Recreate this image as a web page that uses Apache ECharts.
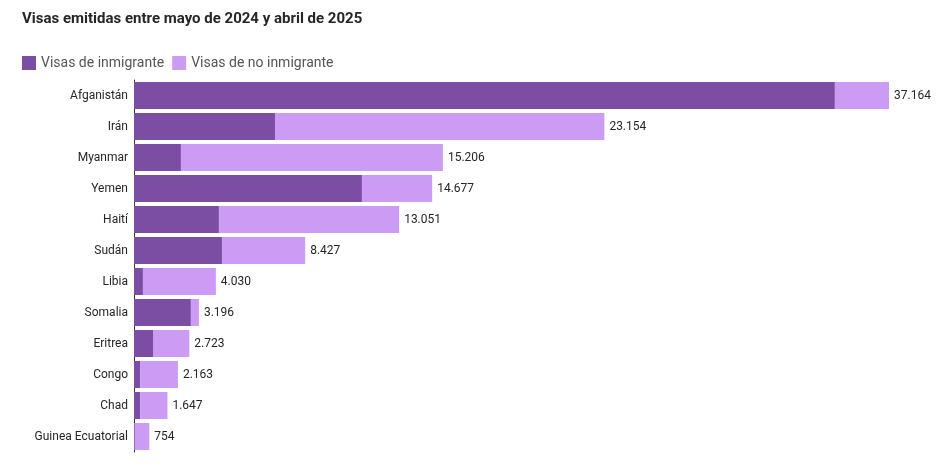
<!DOCTYPE html>
<html><head><meta charset="utf-8">
<script src="https://cdn.jsdelivr.net/npm/echarts@6/dist/echarts.min.js"></script>
<style>body{margin:0;background:#fff}#c{width:941px;height:468px}</style>
</head><body><div id="c"></div>
<script>
const categories=["Afganistán","Irán","Myanmar","Yemen","Haití","Sudán","Libia","Somalia","Eritrea","Congo","Chad","Guinea Ecuatorial"];
const totals=[37164,23154,15206,14677,13051,8427,4030,3196,2723,2163,1647,754];
const immigrant=[34500,6940,2310,11220,4180,4330,440,2800,935,300,300,20];
const nonImmigrant=totals.map((t,i)=>t-immigrant[i]);
const fmt=v=>v.toLocaleString('de-DE');
const chart=echarts.init(document.getElementById('c'));
chart.setOption({
  animation:false,
  title:{text:'Visas emitidas entre mayo de 2024 y abril de 2025',left:17,top:7,textStyle:{fontFamily:'Roboto',fontSize:15,fontWeight:'bold',color:'#262626'}},
  legend:{left:17,top:51,itemWidth:14,itemHeight:14,itemGap:8,icon:'rect',textStyle:{fontFamily:'Roboto',fontSize:14,color:'#555'},data:['Visas de inmigrante','Visas de no inmigrante']},
  grid:{left:134,right:52,top:80,bottom:16},
  xAxis:{type:'value',min:0,max:37164,show:false},
  yAxis:{type:'category',inverse:true,data:categories,axisTick:{show:false},axisLine:{lineStyle:{color:'#333'}},axisLabel:{fontFamily:'Roboto',fontSize:12,color:'#262626',margin:6}},
  series:[
    {name:'Visas de inmigrante',type:'bar',stack:'a',data:immigrant,barWidth:27,itemStyle:{color:'#7b4ea3'}},
    {name:'Visas de no inmigrante',type:'bar',stack:'a',data:nonImmigrant,barWidth:27,itemStyle:{color:'#cc9cf5'},
     label:{show:true,position:'right',distance:5,fontFamily:'Roboto',fontSize:12,color:'#262626',formatter:p=>fmt(totals[p.dataIndex])}}
  ]
});
</script></body></html>
